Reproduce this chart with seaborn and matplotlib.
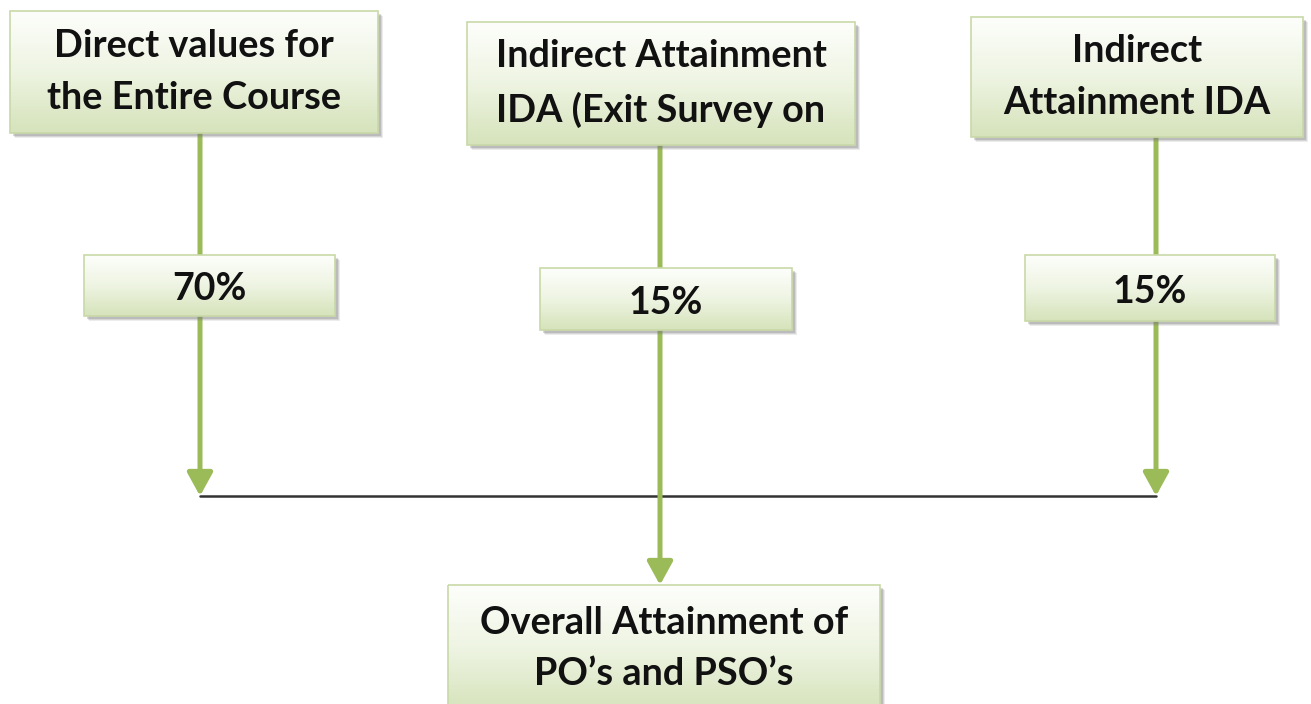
import numpy as np
import seaborn as sns
import matplotlib.pyplot as plt
from matplotlib.patches import Rectangle, FancyArrowPatch
from matplotlib.colors import LinearSegmentedColormap

# Flow chart content
source_labels = ["Direct values for\nthe Entire Course",
                 "Indirect Attainment\nIDA (Exit Survey on",
                 "Indirect\nAttainment IDA"]
weight_labels = ["70%", "15%", "15%"]
target_label = "Overall Attainment of\nPO\u2019s and PSO\u2019s"

# Layout in pixel units (x0, y0, x1, y1)
source_boxes = [(10, 11, 378, 133), (467, 22, 855, 145), (971, 17, 1303, 137)]
weight_boxes = [(84, 255, 335, 316), (540, 268, 792, 330), (1025, 255, 1275, 321)]
target_box = (448, 585, 880, 712)
line_x = [200, 660, 1156]
join_y = 496

GREEN = "#9bbb59"
grad = LinearSegmentedColormap.from_list("boxgrad", ["#fdfefb", "#eef4e2", "#d6e3bb"])

sns.set_theme(style="white")
plt.rcParams['font.family'] = ['Lato', 'DejaVu Sans']

fig = plt.figure(figsize=(13.11, 7.04), dpi=100)
ax = fig.add_axes([0, 0, 1, 1])
ax.set_xlim(0, 1311)
ax.set_ylim(704, 0)
ax.axis("off")


def draw_box(box, text, size, yoff=0):
    x0, y0, x1, y1 = box
    # soft shadow
    for k, a in zip([5, 4, 3], [0.14, 0.2, 0.28]):
        ax.add_patch(Rectangle((x0 + k, y0 + k), x1 - x0, y1 - y0,
                               facecolor="#7a7a7a", edgecolor="none", alpha=a, zorder=3))
    g = np.linspace(0, 1, 64).reshape(-1, 1)
    ax.imshow(g, cmap=grad, extent=(x0, x1, y1, y0), aspect="auto", zorder=4)
    ax.add_patch(Rectangle((x0, y0), x1 - x0, y1 - y0, facecolor="none",
                           edgecolor="#c9d9a8", linewidth=1.2, zorder=5))
    ax.text((x0 + x1) / 2, (y0 + y1) / 2 + yoff, text, ha="center", va="center",
            fontsize=size, fontweight="bold", color="#111111",
            linespacing=1.62, zorder=6)


def arrow(x, ya, yb):
    ax.add_patch(FancyArrowPatch((x, ya), (x, yb), arrowstyle="-|>,head_length=1.0,head_width=0.55",
                                 mutation_scale=14, color=GREEN, linewidth=3.6,
                                 shrinkA=0, shrinkB=0, zorder=2))


# connectors
arrow(line_x[0], source_boxes[0][3], join_y)
arrow(line_x[2], source_boxes[2][3], join_y)
arrow(line_x[1], source_boxes[1][3], target_box[1])
ax.plot([line_x[0], line_x[2]], [join_y, join_y], color="#333333", linewidth=1.8, zorder=1)

for box, lab in zip(source_boxes, source_labels):
    draw_box(box, lab, 27.3)
for box, lab in zip(weight_boxes, weight_labels):
    draw_box(box, lab, 27, yoff=4)
draw_box(target_box, target_label, 27.3)

fig.savefig("out.png", dpi=100)
